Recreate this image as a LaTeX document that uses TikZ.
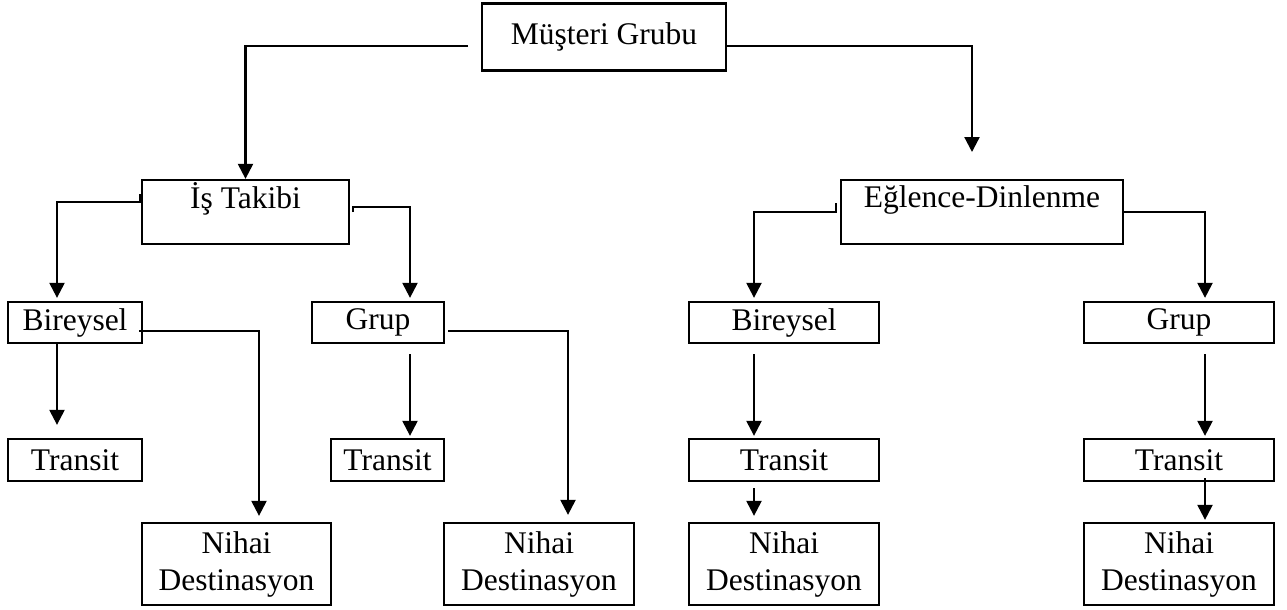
\documentclass[tikz,border=0pt]{standalone}
\usepackage{fontspec}
\setmainfont{Liberation Serif}
\usetikzlibrary{arrows.meta}
\begin{document}
\begin{tikzpicture}[x=1pt,y=-1pt,
  box/.style={draw=black, line width=2.3pt, inner sep=0pt, align=center,
    font=\fontsize{31.5}{37}\selectfont},
  lbl/.style={inner sep=0pt, anchor=base, font=\fontsize{31.5}{37}\selectfont},
  arr/.style={line width=2.3pt, -{Triangle[width=15pt,length=15pt]}}]
\useasboundingbox (0,0) rectangle (1287,610);
% boxes
\node[box, minimum width=244pt, minimum height=67pt] (M) at (604,37) {Müşteri Grubu};
\node[box, minimum width=207pt, minimum height=64pt] (IT) at (245.5,212) {};
\node[lbl] (ITt) at (245.5,208) {İş Takibi};
\node[box, minimum width=282pt, minimum height=64pt] (ED) at (982,212) {};
\node[lbl] (EDt) at (982,207) {Eğlence-Dinlenme};
\node[box, minimum width=134pt, minimum height=41pt] (BL) at (75,322.5) {Bireysel};
\node[box, minimum width=132pt, minimum height=41pt] (GL) at (378,322.5) {Grup};
\node[box, minimum width=190pt, minimum height=41pt] (BR) at (784,322.5) {Bireysel};
\node[box, minimum width=190pt, minimum height=41pt] (GR) at (1179,322.5) {Grup};
\node[box, minimum width=134pt, minimum height=42pt] (TL) at (75,460) {Transit};
\node[box, minimum width=113pt, minimum height=42pt] (T2) at (387.5,460) {Transit};
\node[box, minimum width=190pt, minimum height=42pt] (T3) at (784,460) {Transit};
\node[box, minimum width=190pt, minimum height=42pt] (T4) at (1179,460) {Transit};
\node[box, minimum width=189pt, minimum height=82pt] (N1) at (236.5,564) {Nihai\\Destinasyon};
\node[box, minimum width=190pt, minimum height=82pt] (N2) at (539,564) {Nihai\\Destinasyon};
\node[box, minimum width=190pt, minimum height=82pt] (N3) at (784,564) {Nihai\\Destinasyon};
\node[box, minimum width=190pt, minimum height=82pt] (N4) at (1179,564) {Nihai\\Destinasyon};
% connector start / end points
\coordinate (a1) at (468,46);
\coordinate (a2) at (726,46);
\coordinate (a2e) at (972,152);
\coordinate (c1) at (140,194);
\coordinate (c2) at (353,212);
\coordinate (c3) at (836,203);
\coordinate (c4) at (1123,209);
\coordinate (c5) at (139,331);
\coordinate (c6) at (448,331);
% connectors
\draw[arr] (a1) -| (IT.north);
\draw[arr] (a2) -| (a2e);
\draw[arr] (c1) -- ++(0,8) -| ([xshift=-18pt,yshift=3pt]BL.north);
\draw[arr] (c2) -- ++(0,-5) -| ([xshift=32pt,yshift=3pt]GL.north);
\draw[arr] (c3) -- ++(0,9) -| ([xshift=-30pt,yshift=3pt]BR.north);
\draw[arr] (c4) -- ++(0,3) -| ([xshift=26pt,yshift=3pt]GR.north);
\draw[arr] ([xshift=-18pt]BL.south) -- ([xshift=-18pt,yshift=13pt]TL.north);
\draw[arr] (c5) -| ([xshift=22.5pt,yshift=6pt]N1.north);
\draw[arr] ([xshift=32pt,yshift=-10pt]GL.south) -- ([xshift=22.5pt,yshift=2pt]T2.north);
\draw[arr] (c6) -| ([xshift=29pt,yshift=7pt]N2.north);
\draw[arr] ([xshift=-30pt,yshift=-10pt]BR.south) -- ([xshift=-30pt,yshift=2pt]T3.north);
\draw[arr] ([xshift=-30pt,yshift=-6pt]T3.south) -- ([xshift=-30pt,yshift=6pt]N3.north);
\draw[arr] ([xshift=26pt,yshift=-10pt]GR.south) -- ([xshift=26pt,yshift=2pt]T4.north);
\draw[arr] ([xshift=26pt,yshift=4pt]T4.south) -- ([xshift=26pt,yshift=2pt]N4.north);
\end{tikzpicture}
\end{document}
